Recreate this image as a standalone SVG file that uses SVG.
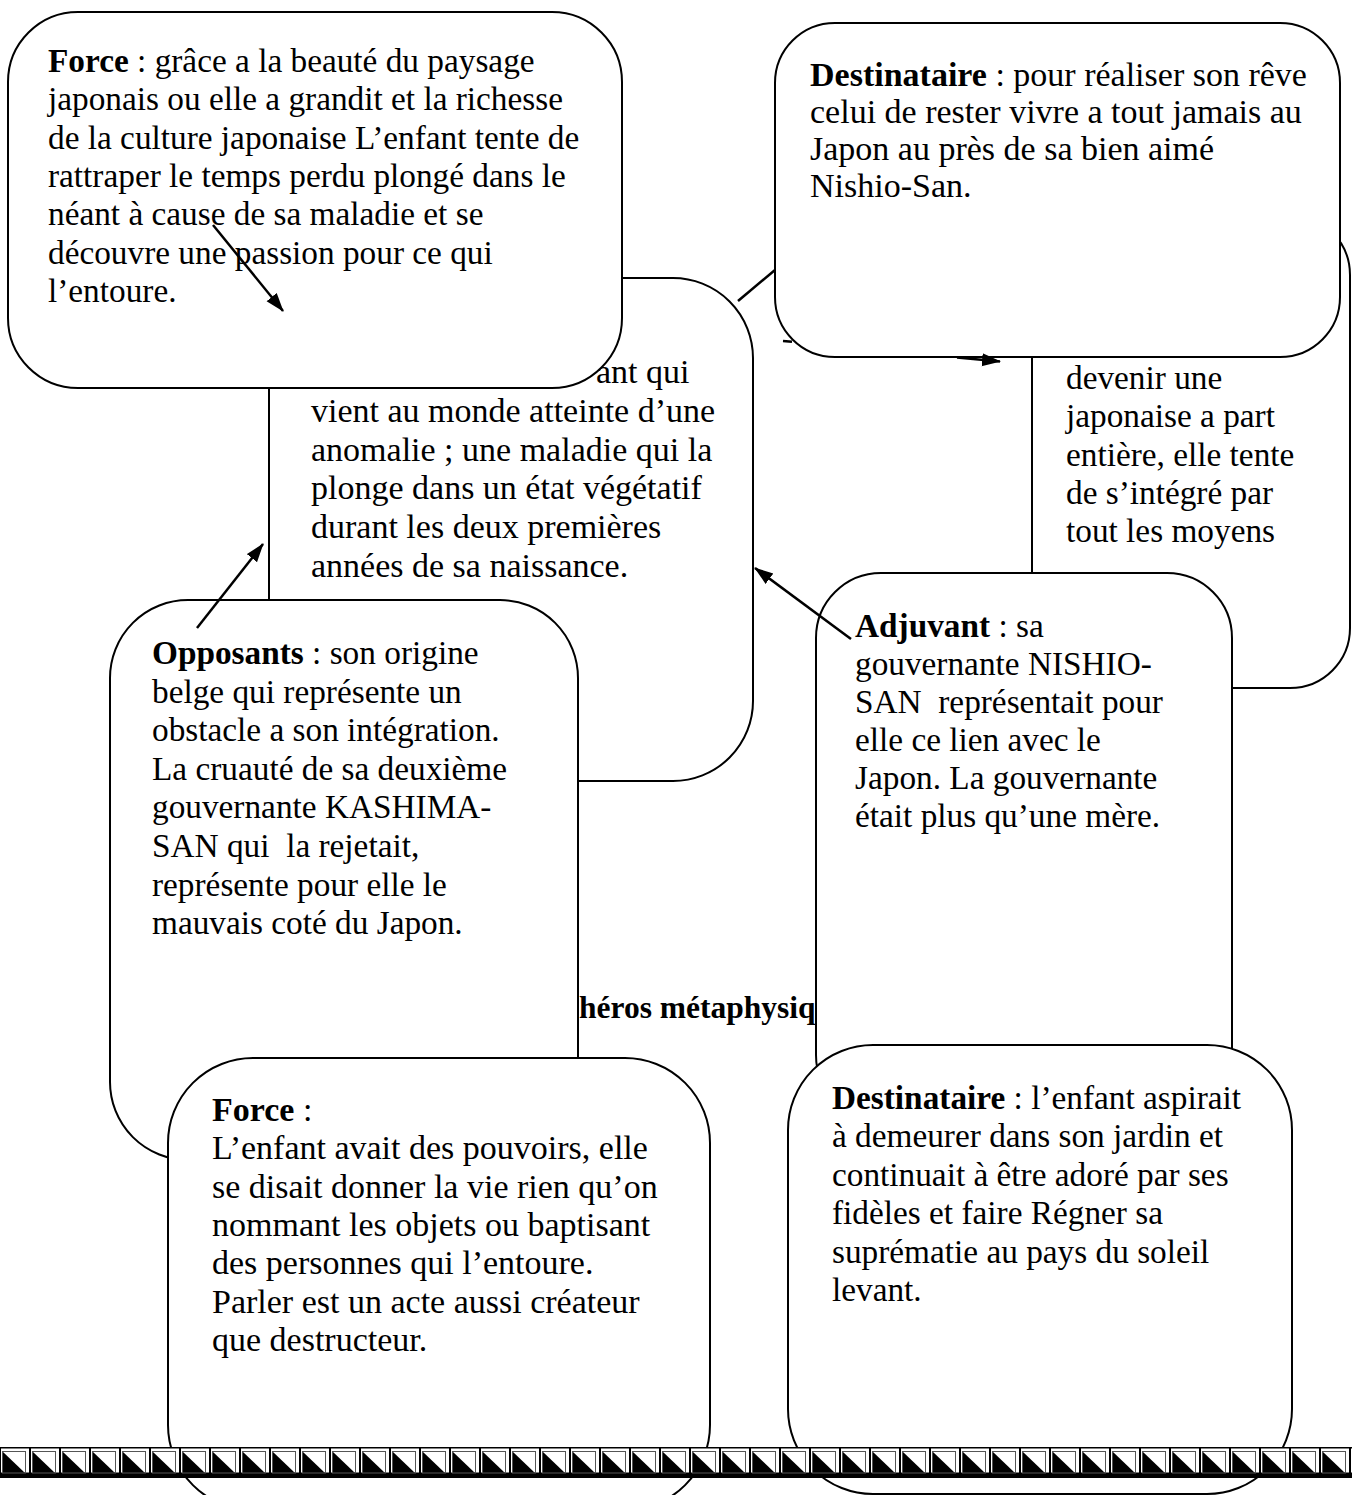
<svg xmlns="http://www.w3.org/2000/svg" width="1352" height="1495" viewBox="0 0 1352 1495">
<style>
.box{fill:#fff;stroke:#000;stroke-width:2}
.t{font-family:"Liberation Serif","Times New Roman",serif;font-size:33.3px;fill:#000;white-space:pre}
.l{font-size:34px}
.b{font-weight:bold}
.conn{stroke:#000;stroke-width:2.5;fill:none}
</style>
<defs>
<marker id="arr" markerUnits="userSpaceOnUse" markerWidth="20" markerHeight="14" refX="18" refY="6.5" orient="auto">
<path d="M0,0 L19,6.5 L0,13 z" fill="#000"/>
</marker>
<pattern id="border" patternUnits="userSpaceOnUse" x="0" y="1447" width="30" height="31">
<rect width="30" height="31" fill="#000"/>
<rect x="1" y="1.5" width="28" height="24" fill="#fff"/>
<polygon points="2.5,4.5 2.5,26 25,26" fill="#000"/>
<rect x="2.5" y="4.5" width="23" height="21.5" fill="none" stroke="#555" stroke-width="1"/>
</pattern>
</defs>

<g id="sujet">
<rect class="box" x="269" y="278" width="484" height="503" rx="80"/>
<text class="t l" x="596" y="383">ant qui</text>
<text class="t l" x="311" y="421.8">vient au monde atteinte d’une</text>
<text class="t l" x="311" y="460.6">anomalie ; une maladie qui la</text>
<text class="t l" x="311" y="499.4">plonge dans un état végétatif</text>
<text class="t l" x="311" y="538.2">durant les deux premières</text>
<text class="t l" x="311" y="577">années de sa naissance.</text>
</g>

<g id="label-heros">
<text class="t b" x="579" y="1018" style="font-size:31.5px">héros métaphysiq</text>
</g>

<g id="objet">
<rect class="box" x="1032" y="215" width="318" height="473" rx="60"/>
<text class="t" x="1066" y="389">devenir une</text>
<text class="t" x="1066" y="427.3">japonaise a part</text>
<text class="t" x="1066" y="465.6">entière, elle tente</text>
<text class="t" x="1066" y="503.9">de s’intégré par</text>
<text class="t" x="1066" y="542.2">tout les moyens</text>
</g>

<g id="destinataire-haut">
<rect class="box" x="775" y="23" width="565" height="334" rx="60"/>
<text class="t l" x="810" y="86"><tspan class="b">Destinataire</tspan> : pour réaliser son rêve</text>
<text class="t l" x="810" y="123">celui de rester vivre a tout jamais au</text>
<text class="t l" x="810" y="160">Japon au près de sa bien aimé</text>
<text class="t l" x="810" y="197">Nishio-San.</text>
</g>

<g id="force-haut">
<rect class="box" x="8" y="12" width="614" height="376" rx="70"/>
<text class="t" x="48" y="72"><tspan class="b">Force</tspan> : grâce a la beauté du paysage</text>
<text class="t" x="48" y="110.3">japonais ou elle a grandit et la richesse</text>
<text class="t" x="48" y="148.6">de la culture japonaise L’enfant tente de</text>
<text class="t" x="48" y="186.9">rattraper le temps perdu plongé dans le</text>
<text class="t" x="48" y="225.2">néant à cause de sa maladie et se</text>
<text class="t" x="48" y="263.5">découvre une passion pour ce qui</text>
<text class="t" x="48" y="301.8">l’entoure.</text>
</g>

<g id="opposants">
<rect class="box" x="110" y="600" width="468" height="560" rx="78"/>
<text class="t" x="152" y="664"><tspan class="b">Opposants</tspan> : son origine</text>
<text class="t" x="152" y="702.6">belge qui représente un</text>
<text class="t" x="152" y="741.2">obstacle a son intégration.</text>
<text class="t" x="152" y="779.8">La cruauté de sa deuxième</text>
<text class="t" x="152" y="818.4">gouvernante KASHIMA-</text>
<text class="t" x="152" y="857">SAN qui  la rejetait,</text>
<text class="t" x="152" y="895.6">représente pour elle le</text>
<text class="t" x="152" y="934.2">mauvais coté du Japon.</text>
</g>

<g id="force-bas">
<rect class="box" x="168" y="1058" width="542" height="452" rx="85"/>
<text class="t l" x="212" y="1121"><tspan class="b">Force</tspan> :</text>
<text class="t l" x="212" y="1159.3">L’enfant avait des pouvoirs, elle</text>
<text class="t l" x="212" y="1197.6">se disait donner la vie rien qu’on</text>
<text class="t l" x="212" y="1235.9">nommant les objets ou baptisant</text>
<text class="t l" x="212" y="1274.2">des personnes qui l’entoure.</text>
<text class="t l" x="212" y="1312.5">Parler est un acte aussi créateur</text>
<text class="t l" x="212" y="1350.8">que destructeur.</text>
</g>

<g id="adjuvant">
<rect class="box" x="816" y="573" width="416" height="547" rx="65"/>
<text class="t" x="855" y="637"><tspan class="b">Adjuvant</tspan> : sa</text>
<text class="t" x="855" y="675">gouvernante NISHIO-</text>
<text class="t" x="855" y="713">SAN  représentait pour</text>
<text class="t" x="855" y="751">elle ce lien avec le</text>
<text class="t" x="855" y="789">Japon. La gouvernante</text>
<text class="t" x="855" y="827">était plus qu’une mère.</text>
</g>

<g id="destinataire-bas">
<rect class="box" x="788" y="1045" width="504" height="449" rx="85"/>
<text class="t" x="832" y="1108.5"><tspan class="b">Destinataire</tspan> : l’enfant aspirait</text>
<text class="t" x="832" y="1147">à demeurer dans son jardin et</text>
<text class="t" x="832" y="1185.5">continuait à être adoré par ses</text>
<text class="t" x="832" y="1224">fidèles et faire Régner sa</text>
<text class="t" x="832" y="1262.5">suprématie au pays du soleil</text>
<text class="t" x="832" y="1301">levant.</text>
</g>

<g id="connectors">
<line class="conn" x1="213" y1="225" x2="283" y2="311" marker-end="url(#arr)"/>
<line class="conn" x1="197" y1="628" x2="263" y2="544" marker-end="url(#arr)"/>
<line class="conn" x1="851" y1="639" x2="755" y2="568" marker-end="url(#arr)"/>
<line class="conn" x1="738" y1="301" x2="775" y2="270"/>
<path class="conn" d="M783,341 L792,341.8 M957,357.4 L1000,361.4" marker-end="url(#arr)"/>
</g>

<g id="page-border">
<rect x="0" y="1447" width="1352" height="31" fill="url(#border)"/>
</g>
</svg>
